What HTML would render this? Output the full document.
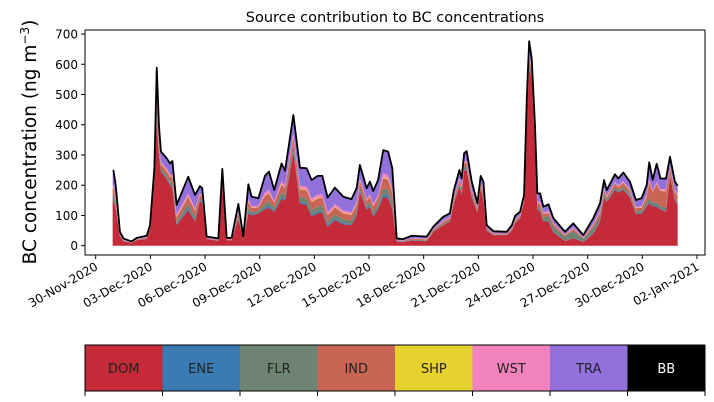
<!DOCTYPE html>
<html><head><meta charset="utf-8"><style>
body{margin:0;background:#fff;}
svg{display:block;font-family:"DejaVu Sans","Liberation Sans",sans-serif;}
</style></head><body>
<svg id="chart" width="714" height="402" viewBox="0 0 714 402"></svg>
<script>
const sources = ["DOM","ENE","FLR","IND","SHP","WST","TRA","BB"];
const colors = ["#c52a38","#3a7bb3","#6f8373","#c96555","#e6d12f","#f383bf","#9371da","#000000"];
const xTickLabels = ["30-Nov-2020","03-Dec-2020","06-Dec-2020","09-Dec-2020","12-Dec-2020","15-Dec-2020","18-Dec-2020","21-Dec-2020","24-Dec-2020","27-Dec-2020","30-Dec-2020","02-Jan-2021"];
const xTickDays = [0,3,6,9,12,15,18,21,24,27,30,33];
const yTicks = [0,100,200,300,400,500,600,700];
// days since 30-Nov-2020
const days = [0.93,0.98,1.1,1.33,1.52,1.97,2.25,2.8,2.98,3.22,3.35,3.47,3.58,3.9,4.08,4.21,4.44,5.08,5.45,5.72,5.85,6.09,6.73,6.95,7.19,7.46,7.83,8.1,8.38,8.56,8.93,9.29,9.51,9.8,10.2,10.39,10.85,11.21,11.58,11.85,12.18,12.44,12.73,13.13,13.59,14.04,14.32,14.5,14.87,15.05,15.23,15.5,15.78,16.05,16.28,16.52,16.88,17.34,18.17,18.53,19.08,19.44,19.66,19.96,20.09,20.22,20.36,20.64,20.95,21.13,21.28,21.46,21.83,22.56,22.84,23.02,23.29,23.51,23.66,23.79,23.93,24.11,24.24,24.39,24.57,24.85,25.12,25.76,26.21,26.76,27.31,27.68,27.9,28.05,28.5,28.68,28.96,29.32,29.65,29.96,30.24,30.38,30.57,30.79,31.0,31.3,31.52,31.79,31.94];
const dom = [151,150,120,30,15,8,18,22,55,215,422,300,245,220,200,190,68,118,80,148,140,22,16,225,18,18,90,20,107,100,107,120,125,112,155,150,311,140,134,96,107,110,62,85,70,68,100,178,118,129,96,120,162,157,120,14,12,17,15,46,68,80,140,195,170,250,250,160,110,190,150,50,35,35,50,75,90,145,440,580,560,330,120,115,80,80,45,15,25,12,40,80,160,145,185,175,185,160,105,105,130,140,130,129,120,112,230,150,135];
const ene = [5,5,4,1,1,0,0,1,1,2,8,5,3,3,4,4,3,6,5,3,2,0,0,1,0,0,2,1,5,3,2,6,6,4,6,5,6,6,6,5,6,5,5,5,5,4,4,4,4,4,4,5,8,8,7,1,1,1,1,1,1,1,2,3,3,3,3,3,1,2,3,1,1,1,1,1,1,1,3,5,3,3,3,3,2,2,2,1,1,1,1,2,2,2,2,2,2,2,2,2,3,4,3,3,2,3,2,2,2];
const flr = [13,13,10,2,1,1,1,1,2,5,22,13,8,9,9,12,9,14,11,6,7,1,1,4,1,1,6,1,12,8,7,14,16,9,15,13,16,15,16,16,16,16,13,14,12,11,12,11,9,11,11,13,20,20,18,1,1,2,2,2,4,4,6,7,7,7,8,7,4,5,8,2,2,1,2,3,3,3,6,12,8,9,7,7,12,16,17,14,23,10,19,17,12,6,8,7,8,8,7,8,10,12,9,12,9,10,7,7,8];
const ind = [21,22,18,4,2,1,2,3,3,9,37,22,15,15,16,20,15,24,19,11,11,2,2,7,2,2,11,2,21,14,11,25,26,16,26,22,27,26,27,27,27,27,21,23,20,19,20,20,16,18,19,21,34,34,30,2,2,4,3,4,6,6,10,12,12,12,14,11,7,9,14,4,3,3,4,5,5,5,10,21,13,15,12,13,10,11,8,4,7,3,8,11,11,8,11,10,13,11,10,11,18,55,35,60,50,55,20,20,20];
const shp = [2,1,2,0,0,0,0,0,0,1,4,1,2,2,1,2,2,2,2,1,1,0,0,1,0,0,1,0,2,1,1,2,2,1,3,1,2,3,2,2,3,2,1,2,2,2,2,2,1,1,1,1,3,3,2,0,0,0,1,0,1,1,1,1,1,1,2,1,1,1,1,0,0,0,0,1,0,1,1,2,1,2,1,1,1,1,1,1,1,0,1,1,1,1,1,1,1,1,1,1,2,2,1,1,1,1,1,1,1];
const wst = [8,8,6,1,1,1,1,1,1,4,13,8,5,5,6,7,5,9,7,4,4,1,1,2,1,1,4,1,8,5,4,9,10,6,9,8,10,9,10,10,10,10,8,9,7,7,7,7,6,7,7,8,12,12,11,1,1,1,1,2,2,2,3,5,4,5,5,4,2,4,5,2,1,1,2,2,2,2,4,8,5,5,4,5,4,5,3,2,3,2,4,4,5,3,4,4,5,4,3,4,5,8,5,6,5,6,4,4,4];
const tra = [48,49,40,8,4,3,4,5,6,20,83,50,33,35,36,45,33,55,44,24,25,4,4,14,4,4,24,5,48,31,25,55,60,36,58,49,60,59,61,61,62,61,49,54,46,43,45,45,36,42,43,49,77,77,68,5,5,8,7,8,14,13,22,27,26,28,31,26,15,20,31,9,6,5,9,12,11,11,23,48,30,35,26,29,20,22,15,9,14,7,18,25,26,19,25,23,28,26,23,26,32,55,35,60,35,35,30,28,28];
const bb = new Array(days.length).fill(0);
const layers = [dom,ene,flr,ind,shp,wst,tra,bb];

const NS="http://www.w3.org/2000/svg";
const svg=document.getElementById('chart');
const L=85,R=705,T=30,B=255;
const X=d=>95.7+d*18.22;
const Y=v=>245.7-v*0.3024;
function mk(tag,attrs,parent){const e=document.createElementNS(NS,tag);for(const k in attrs)e.setAttribute(k,attrs[k]);(parent||svg).appendChild(e);return e;}

const title=mk('text',{x:395,y:22,'text-anchor':'middle','font-size':14.5});
title.textContent='Source contribution to BC concentrations';



const gArea=mk('g',{});


let base=new Array(days.length).fill(0);
layers.forEach((arr,li)=>{
  const top=base.map((b,i)=>b+arr[i]);
  let d='M'+X(days[0])+','+Y(base[0]);
  for(let i=0;i<days.length;i++) d+='L'+X(days[i]).toFixed(2)+','+Y(top[i]).toFixed(2);
  for(let i=days.length-1;i>=0;i--) d+='L'+X(days[i]).toFixed(2)+','+Y(base[i]).toFixed(2);
  const p=mk('path',{d:d+'Z',fill:colors[li],stroke:'none'},gArea);
  
  
  base=top;
});
let ld='';
for(let i=0;i<days.length;i++) ld+=(i?'L':'M')+X(days[i]).toFixed(2)+','+Y(base[i]).toFixed(2);
const tl=mk('path',{d:ld,fill:'none',stroke:'#000','stroke-width':1.8,'stroke-linejoin':'round'});



const frame=mk('rect',{x:L,y:T,width:R-L,height:B-T,fill:'none',stroke:'#000','stroke-width':1});



yTicks.forEach(v=>{
  mk('line',{x1:L-4,x2:L,y1:Y(v),y2:Y(v),stroke:'#000'});
  const t=mk('text',{x:L-7,y:Y(v)+4.5,'text-anchor':'end','font-size':12});
  t.textContent=v;
  
  
});
xTickDays.forEach((dd,i)=>{
  const x=X(dd);
  mk('line',{x1:x,x2:x,y1:B,y2:B+4,stroke:'#000'});
  const t=mk('text',{x:x+3,y:B+14,'text-anchor':'end','font-size':12,transform:'rotate(-30 '+(x+3)+' '+(B+14)+')'});
  t.textContent=xTickLabels[i];
  
  
});
const yl=mk('text',{x:36,y:142,'text-anchor':'middle','font-size':18.5,transform:'rotate(-90 36 142)'});
yl.innerHTML='BC concentration (ng m<tspan baseline-shift="super" font-size="12">−3</tspan>)';



const gLeg=mk('g',{});


const lw=(R-L)/sources.length;
sources.forEach((s,i)=>{
  const r=mk('rect',{x:L+i*lw,y:345,width:lw,height:46,fill:colors[i]},gLeg);
  
  
  const t=mk('text',{x:L+i*lw+lw/2,y:373,'text-anchor':'middle','font-size':13,fill:s==='BB'?'#fff':'#222'},gLeg);
  t.textContent=s;
  
  
});
mk('rect',{x:L,y:345,width:R-L,height:46,fill:'none',stroke:'#000'},gLeg);
for(let i=0;i<=sources.length;i++) mk('line',{x1:L+i*lw,x2:L+i*lw,y1:391,y2:396,stroke:'#000'},gLeg);
</script>
</body></html>
